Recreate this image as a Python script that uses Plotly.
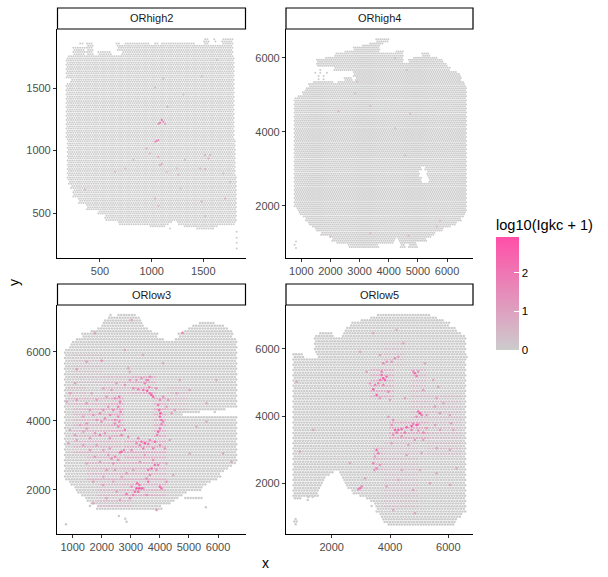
import numpy as np
import plotly.graph_objects as go

W, H = 608, 577
titles = ["ORhigh2", "ORhigh4", "ORlow3", "ORlow5"]

# tissue extents: (y_top, y_bottom, x_first, x_last)
high2_bands = [
 (1890,1870,1500,1560),(1890,1870,1597,1623),(1890,1870,1678,1785),
 (1870,1844,742,984),(1870,1844,1016,1065),(1870,1844,1097,1420),(1870,1844,1500,1560),(1870,1844,1678,1785),
 (1860,1830,371,435),(1860,1840,306,332),(1860,1844,645,694),
 (1844,1790,661,1785),(1830,1790,371,435),(1830,1790,242,355),
 (1790,1764,242,355),(1790,1764,371,435),(1790,1764,484,613),(1790,1764,710,1790),
 (1764,1737,193,1791),(1737,1577,171,1797),(1577,1537,210,1797),(1537,1084,171,1800),
 (1084,817,177,1807),(817,764,184,1817),(764,724,193,1817),(724,684,216,1823),(684,631,242,1823),
 (631,577,290,1823),(577,524,371,1823),(524,484,484,1823),(484,444,548,1817),
 (444,417,661,1194),(444,417,1242,1807),(417,396,677,1162),(417,396,1258,1807),
 (396,377,984,1129),(396,377,1307,1630),(377,364,1420,1613)]
high2_single_x = [1178,1823,1823,1823,1823]
high2_single_y = [377,350,303,262,217]

high4_bands = [
 (6496,6433,3536,3992),(6433,6370,3307,3821),(6370,6298,3079,3707),(6298,6190,2793,3684),
 (6190,6118,2451,3684),(6190,6118,4255,4483),(6118,6046,2165,4483),(6118,6046,5134,5420),
 (6046,5983,1823,4507),(6046,5983,4826,5648),(5983,5866,1537,4483),(5983,5866,4678,5877),
 (5866,5758,1514,5991),(5758,5668,2108,6105),(5668,5578,2736,6333),(5578,5488,2793,6447),
 (5488,5380,2451,2736),(5488,5380,2850,6505),(5380,5308,1366,2108),(5380,5308,2245,6562),
 (5308,5218,1252,6619),(5218,5083,1138,6653),(5083,4993,1023,6676),(4993,4903,909,6676),
 (4903,3058,737,6653),(3058,2968,737,5134),(3058,2968,5249,6653),(2968,2788,737,5053),(2968,2788,5306,6653),
 (2788,2608,737,5134),(2788,2608,5386,6653),(2608,1933,737,6653),
 (1933,1843,852,6653),(1843,1753,943,6619),(1753,1663,1023,6562),(1663,1573,1138,6505),
 (1573,1483,1252,6333),(1483,1393,1366,6105),(1393,1303,1480,5877),(1303,1213,1651,5591),
 (1213,1123,1937,5477),(1123,1033,2051,4221),(1123,1033,4335,5305),(1033,943,2222,4164),(1033,943,4392,4963),
 (943,850,2622,3650),(943,850,4392,4563),(943,850,4678,4986)]
high4_single_x = [1651,1480,1651,1880,1594,1766,1594,1766,818,772,818]
high4_single_y = [5668,5596,5596,5596,5506,5506,5416,5416,1033,943,853]

low3_bands = [
 (7064,6997,2258,2304),(7064,6997,2510,3140),(6997,6919,2167,3312),(6919,6823,2052,3369),(6900,6823,5315,5911),
 (6823,6726,1938,3483),(6823,6726,5086,6231),(6726,6630,1823,3598),(6726,6630,4972,6346),
 (6630,6533,1651,3770),(6630,6533,4800,6460),(6533,6436,1308,3941),(6533,6436,4628,6518),
 (6436,6340,1136,4170),(6436,6340,4514,6632),(6340,6243,964,6632),(6243,6050,907,6632),
 (6050,4408,735,6632),(4408,4330,735,6289),(4330,4250,735,5373),(4330,4250,5830,5888),(4330,4250,6002,6060),
 (4250,4100,735,4743),(4100,2763,735,6632),(2763,2667,735,6518),(2667,2570,735,6346),(2570,2474,735,6231),
 (2474,2377,735,6117),(2377,2280,770,5945),(2280,2184,850,5716),(2184,2087,964,5602),(2087,1990,1079,5430),
 (1990,1894,1193,4915),(1894,1817,1308,4800),(1817,1720,1422,4685),(1817,1720,4800,5430),
 (1720,1623,1480,4514),(1623,1527,1594,4342),(1527,1430,1822,4056),(1430,1390,2167,3884)]
low3_single_x = [1594,770,2590,2808,2854,5579]
low3_single_y = [1527,995,1237,1160,1073,1488]

low5_bands = [
 (7012,6942,3541,5370),(6942,6863,3312,5598),(6863,6783,2969,5884),(6783,6684,2649,6055),(6684,6585,2455,6227),
 (6585,6516,2398,6341),(6516,6416,1598,2055),(6516,6416,2398,6398),(6416,6347,1426,2112),(6416,6347,2341,6570),
 (6347,5871,1426,6604),(5871,5722,683,1026),(5871,5722,1483,6627),(5722,2399,683,6604),
 (2399,2300,683,2055),(2399,2300,2283,6604),(2300,2200,683,1940),(2300,2200,2341,6604),
 (2200,2101,683,1826),(2200,2101,2341,6604),(2101,2002,683,1712),(2101,2002,2398,6604),
 (2002,1903,683,1655),(2002,1903,2455,6604),(1903,1804,683,1598),(1903,1804,2569,6604),
 (1804,1705,683,1540),(1804,1705,2684,6604),(1705,1625,683,1598),(1705,1625,2912,6604),
 (1625,1540,683,969),(1625,1540,3141,6604),(1540,1456,3312,6604),(1456,1357,3483,6604),
 (1357,1213,3540,6604),(1213,1110,3541,6604),(1110,1030,3598,6512),(1030,930,3655,6455),
 (930,830,3769,6284),(830,762,3941,6170)]
low5_single_x = [1197,1346,1175,3369,763,717,798,763]
low5_single_y = [1590,1590,1500,1328,941,861,861,782]

# regions of faint signal: (y_top, y_bottom, x_first, x_last, value)
high2_wash = []
high4_wash = []
low3_wash = [
 (4700,3000,1000,2700,.5),(3000,2300,1500,2700,.5),(2800,1800,2700,4200,.55),(3500,2900,2800,4200,.7),
 (5300,4700,3000,3900,.6),(4700,3500,3800,4200,.7),(4800,3500,2300,2800,.8),(5300,4700,2000,3000,.35),
 (5000,4400,800,1500,.35),(2300,1500,1800,3000,.4),(5000,4200,4200,5000,.3),(6000,5000,1000,2000,.2)]
low5_wash = [
 (5500,4500,3300,4100,.6),(3900,3300,4000,5300,.7),(3100,2300,3400,3800,.5),(5400,3800,4700,5200,.4),
 (4600,2800,5200,6400,.3),(3300,1200,3800,5000,.25),(6200,5400,3800,4500,.25)]

# spots with clear Igkc signal
high2_hot_x = [1097,1081,1113,1065,1129,1152,1113,1033,1307,1484,1630,1049,1065,1033,1081,1097,1065,984,823,742,645,952,1517,1549,1565,1323,1468,1517,1242,1258,1145,1694,1759,355,1033,1065,1281,1484,1710,1517]
high2_hot_y = [1244,1223,1231,1212,1212,1351,1577,1505,1449,1596,1724,1076,1084,1071,884,892,951,977,924,857,831,1017,964,937,964,924,857,852,857,804,831,817,751,689,617,556,697,591,617,476]
high2_hot_v = [2.4,2.4,1.8,1.3,1.3,.7,.4,.4,.4,.4,.4,1.9,1.7,1.3,1,1,1,.6,.6,.5,.5,.6,.8,.8,.6,.5,.6,.6,.5,.5,.5,.5,.5,.6,.9,.5,.4,.8,.8,.5]

high4_hot_x = [4221,4621,2908,2850,2280,3364,4735,4221,4563,1994,3364,4678,5763,5648]
high4_hot_y = [5983,5668,5353,5038,4543,4696,4480,4093,3355,1168,1258,1186,1591,1438]
high4_hot_v = [.5,.4,.5,.4,.6,.4,.5,.5,.5,.5,.5,.6,.6,.5]

low3_hot_x = [3083,3254,3426,3563,3632,3598,3483,3712,3770,3655,3884,2796,2968,3197,4000,4113,4285,
 3941,3976,4021,3999,4056,3941,3999,4056,3907,4113,4228,4400,4514,
 2602,2625,2567,2647,2567,2602,2453,2396,2224,2052,1938,1708,1594,1365,2281,2109,2453,1823,1480,
 2796,2682,2911,2567,2453,1995,1938,2109,2281,2682,2625,2762,2453,2338,2567,2396,2224,2167,2453,2682,1766,1594,1365,1079,850,1480,1251,1766,1708,2052,
 3483,3369,3254,3598,3827,3770,3426,3312,3025,3999,4170,3655,3197,
 3712,3827,3941,3598,3770,3884,3598,3541,3655,3999,4056,4228,3426,
 3197,3289,3369,3220,3289,3140,3254,3025,3083,2854,2968,3541,3884,2625,2510,1708,2167,
 4777,1995,1766,1136,1480,2796,3025,3655,3541,3369,2911,3426,4113,4686,5029,4571,5602,5945,907,1079,793,1136,1480,1823,2167,2338,2052,2510,1651,2968,
 907,1136,1365,1594,1823,2052,2281,1938,1480,2052,2396,2854,3083,3312,3483,4228,4457,4342,5029,6174,6460,5258,5602]
low3_hot_y = [4939,4910,4891,4871,4968,5181,5084,4746,4697,4794,4939,5036,5181,5181,4601,4697,4601,
 4456,4311,4215,4118,4021,3681,3777,3903,3584,3971,4408,4215,4311,
 4697,4553,4408,4263,4118,3973,4649,4311,4408,4311,4215,4166,4311,4118,4166,4070,4021,4021,3925,
 3729,3584,3536,3826,3922,3971,3584,3633,3488,3101,3082,3150,2956,2908,2860,2763,3005,2570,2570,2377,2956,3150,3294,3584,3343,3777,3874,3633,2232,2135,
 3343,3391,3488,3324,3391,3198,3198,3294,3150,3294,3198,3439,3343,
 2618,2715,2715,2570,2860,2570,2232,2328,2425,2087,2039,2232,2039,
 2039,2039,2039,2184,2135,1942,1942,2087,1845,1875,1749,1845,1411,1700,1942,1604,1749,
 6552,5741,6533,5490,5712,6050,6919,5277,5181,5229,5519,5905,5664,5181,4891,4794,4504,5181,4794,5084,4553,4601,4504,4601,4697,4891,4939,5084,4794,5422,
 3729,3439,3681,3488,3294,3150,3198,2811,2763,2377,2232,2474,2570,2811,3005,2763,2425,3439,3053,3053,2811,3826,3971]
low3_hot_v = [1.6,1.7,2,2.6,1.8,1.5,1.4,2.5,2.3,2.1,1.4,1.2,1.2,1,1.4,1.2,1.2,
 1.8,2.3,2.6,2.3,2,2.4,2,1.6,1.6,1.4,1.2,1,1,
 2,2,1.9,2,1.6,1.5,1.3,1.5,1.3,1.3,1.4,1.3,1.1,1,1.5,1.5,1.5,1.3,1.3,
 2,1.6,1.6,1.6,1.4,1.3,1.7,1.3,1.3,2.5,2.3,1.6,1.6,1.6,1.5,1.3,1.3,1.2,1,1,1,1.1,1,1,1,1.3,1,1.3,1,1,
 2.8,2.2,1.8,2,2.4,1.9,1.8,1.7,1.6,1.4,1.2,1.4,1.4,
 2.4,2,1.9,1.9,1.5,1.4,2,1.6,1.4,2.2,2,1.3,1.4,
 2.7,2.7,2.4,2.2,2,2.2,2.2,1.5,1.8,2,1.5,1.5,1.4,1,1,.9,.9,
 1.9,1.5,1,1.2,1,1,1,1.5,1.5,1.2,.9,.8,.8,1,.9,.9,.8,.7,1,.9,1,1.2,1.1,1,1.2,1,.9,.9,.9,.8,
 .8,.8,.9,1,1,1,1.1,.9,.8,.8,.8,1,.9,1,1,.8,.7,.8,.7,.9,.9,.7,.7]

low5_hot_x = [3769,3712,3826,3655,3598,3712,3884,3426,3541,3484,3941,3769,3312,3198,4055,4169,3884,3769,4284,4455,3426,4227,2969,3655,4512,3655,3998,798,
 4855,4912,4798,4969,5198,5484,5655,5141,5598,5827,5027,4969,5084,4912,5255,5712,5541,6055,3941,4112,4798,4969,
 4169,4284,4227,4398,4569,4741,4912,4512,4741,4969,5141,4055,4112,4398,5255,5712,5541,6098,6170,4855,5141,4055,4627,5084,5598,6055,
 3541,3598,3484,3426,3541,3655,3461,2969,3027,2912,1369,912,2626,3141,3884,4284,4798,5369,6055,4112,4855,4398,5027,5598,6284,4569]
low5_hot_y = [5127,5226,5077,5077,4978,5325,5176,4799,4631,4928,4730,4928,4978,5325,5623,5722,5623,5573,5772,6168,6466,6565,5920,5821,4532,4532,4482,5028,
 5276,5196,5325,5325,5573,5077,4879,4780,4532,4383,4085,4135,4036,3986,4036,4085,4284,4036,3986,3887,3768,3748,
 3589,3589,3510,3609,3669,3708,3738,3510,3589,3570,3510,3738,3441,3411,3639,3589,3738,3788,3589,3292,3292,3193,3143,2895,3044,2994,
 2994,2895,2796,2597,2449,2548,2399,1853,1903,1824,3589,2945,2597,2151,1903,2101,1804,2002,1953,1209,1109,2399,2399,2300,2449,2845]
low5_hot_v = [2.8,2.2,2.4,2,1.8,1.8,2,2.4,2.5,1.5,1.5,1.4,1.2,1,1.4,1.3,1.3,1.5,1,.9,.8,.8,.8,1,1,1,1,.9,
 2.2,1.9,1.5,1.3,.9,.9,1,.9,1.1,.8,2.8,2,2,1.5,1.2,1.1,1.1,1,1.2,1.4,1.7,1.7,
 2.4,2.4,1.9,2.2,2.6,2.8,2.7,1.9,1.7,1.6,1.5,1.4,1.3,1.4,1.1,1.1,1,1,.9,1,1,1,.9,1,1,.9,
 2.2,1.8,1.2,1.6,1.4,1.1,1.3,2.1,1.6,1.5,1,.9,.8,.9,.9,.9,.9,.9,.9,.9,.9,.8,.9,.8,.8,.9]

tick_vals = [[500,1000,1500],[1000,2000,3000,4000,5000,6000],[1000,2000,3000,4000,5000,6000],[2000,4000,6000]]
ytick_vals = [[500,1000,1500],[2000,4000,6000],[2000,4000,6000],[2000,4000,6000]]
x_ranges = [[84,1913],[476,6890],[460,6962],[432,6847]]
y_ranges = [[140,1972],[586,6776],[716,7354],[491,7310]]
pitch_x = [22,70,92,92]
pitch_y = [17,55,78,78]
marker_px = [2.0,2.0,2.5,2.5]
all_bands = [high2_bands, high4_bands, low3_bands, low5_bands]
all_wash = [high2_wash, high4_wash, low3_wash, low5_wash]
singles = [(high2_single_x,high2_single_y),(high4_single_x,high4_single_y),(low3_single_x,low3_single_y),(low5_single_x,low5_single_y)]
hots = [(high2_hot_x,high2_hot_y,high2_hot_v),(high4_hot_x,high4_hot_y,high4_hot_v),(low3_hot_x,low3_hot_y,low3_hot_v),(low5_hot_x,low5_hot_y,low5_hot_v)]

GREY, PINK = "#CCCCCC", "#FF4FA7"
FONT = "Liberation Sans"
boxes = [(57,246,29,258),(286,473,29,258),(57,246,305,534),(286,473,305,534)]
strips = [(57.5,245.5,8,29),(286,473,8,29),(57.5,245.5,284,305),(286,473,284,305)]

def spots(bands, wash, dx, dy):
    pts = {}
    top = max(b[0] for b in bands)
    low = min(b[1] for b in bands)
    for k, y in enumerate(np.arange(top, low, -dy)):
        off = dx/2 if k % 2 else 0
        for yt, yb, x0, x1 in bands:
            if yt >= y > yb:
                n0 = int(np.ceil((x0-off)/dx)); n1 = int(np.floor((x1-off)/dx))
                for n in range(n0, n1+1):
                    xx = n*dx+off
                    v = 0.0
                    if k % 2:
                        for wt, wb, wx0, wx1, wv in wash:
                            if wt >= y > wb and wx0 <= xx <= wx1:
                                v = max(v, wv)
                    pts[(xx, float(y))] = v
    return pts

fig = go.Figure()
layout = dict(width=W, height=H, autosize=False, margin=dict(l=0,r=0,t=0,b=0),
    paper_bgcolor="white", plot_bgcolor="white", showlegend=False,
    font=dict(family=FONT, color="#000000"), shapes=[], annotations=[],
    coloraxis=dict(cmin=0, cmax=2.92, colorscale=[[0,GREY],[1,PINK]],
        colorbar=dict(x=496/W, xanchor="left", xpad=0, ypad=0, y=1-350/H, yanchor="bottom",
            lenmode="pixels", len=134, thicknessmode="pixels", thickness=23, outlinewidth=0,
            tickvals=[0,1,2], ticks="inside", ticklen=5, tickcolor="white", tickwidth=1,
            tickfont=dict(size=11.5, family=FONT, color="#000000"),
            title=dict(text="log10(Igkc + 1)", side="top", font=dict(size=14.6, family=FONT, color="#000000")))))

for i in range(4):
    pts = spots(all_bands[i], all_wash[i], pitch_x[i], pitch_y[i])
    bx = np.array([p[0] for p in pts] + singles[i][0], float)
    by = np.array([p[1] for p in pts] + singles[i][1], float)
    bv = np.array(list(pts.values()) + [0.0]*len(singles[i][0]))
    order = np.argsort(bv)
    hx, hy, hv = hots[i]
    xs = np.concatenate([bx[order], hx]); ys = np.concatenate([by[order], hy]); vs = np.concatenate([bv[order], hv])
    sfx = "" if i == 0 else str(i+1)
    fig.add_trace(go.Scatter(x=xs, y=ys, mode="markers", xaxis="x"+sfx, yaxis="y"+sfx, hoverinfo="skip",
        marker=dict(size=marker_px[i], color=vs, coloraxis="coloraxis", line=dict(width=0))))
    l, r, t, b = boxes[i]
    axis_common = dict(showgrid=False, zeroline=False, showline=True, linecolor="black", linewidth=1.1,
        ticks="outside", ticklen=3, tickwidth=1, tickcolor="#333333",
        tickfont=dict(size=11, family=FONT, color="#4D4D4D"))
    layout["xaxis"+sfx] = dict(axis_common, domain=[l/W, r/W], range=x_ranges[i], tickvals=tick_vals[i],
        anchor="y"+sfx, tickformat="d")
    layout["yaxis"+sfx] = dict(axis_common, domain=[1-b/H, 1-t/H], range=y_ranges[i], tickvals=ytick_vals[i],
        anchor="x"+sfx, tickformat="d")
    sl, sr, st, sb = strips[i]
    layout["shapes"].append(dict(type="rect", xref="paper", yref="paper", x0=sl/W, x1=sr/W, y0=1-sb/H, y1=1-st/H,
        line=dict(color="black", width=1.2), fillcolor="white"))
    layout["annotations"].append(dict(text=titles[i], xref="paper", yref="paper", x=(sl+sr)/2/W, y=1-(st+sb)/2/H,
        showarrow=False, xanchor="center", yanchor="middle", font=dict(size=11, family=FONT, color="#1A1A1A")))

for tk in (271, 310):
    layout["shapes"].append(dict(type="line", xref="paper", yref="paper", x0=496/W, x1=501/W, y0=1-tk/H, y1=1-tk/H,
        line=dict(color="white", width=1), layer="above"))
layout["annotations"].append(dict(text="x", xref="paper", yref="paper", x=265/W, y=1-563/H, showarrow=False,
    xanchor="center", yanchor="middle", font=dict(size=14, family=FONT, color="#000000")))
layout["annotations"].append(dict(text="y", xref="paper", yref="paper", x=14/W, y=1-283/H, showarrow=False, textangle=-90,
    xanchor="center", yanchor="middle", font=dict(size=14, family=FONT, color="#000000")))
fig.update_layout(**layout)
fig.write_html("out.html", post_script="document.body.style.margin='0';", config={"displayModeBar": False})
